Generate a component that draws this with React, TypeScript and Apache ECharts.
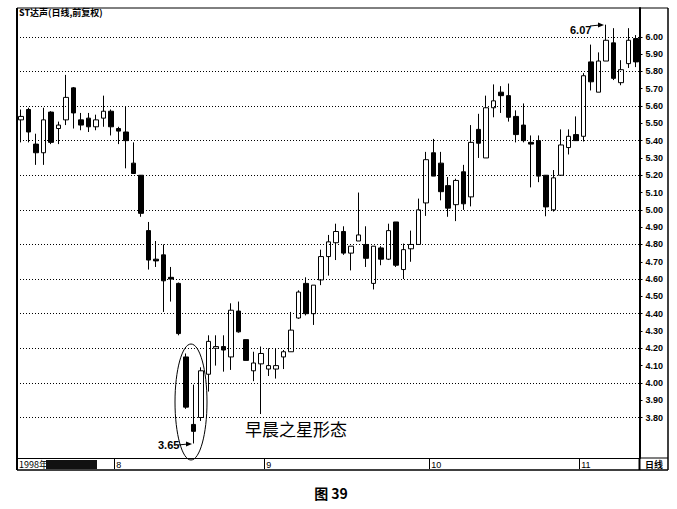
import React, { useEffect, useRef } from 'react';
import * as echarts from 'echarts';

// ---- data ----
const opens = [
  5.52, 5.58, 5.38, 5.33, 5.565, 5.47, 5.52, 5.705, 5.52, 5.53,
  5.48, 5.53, 5.57, 5.47, 5.45, 5.27, 5.2, 4.88, 4.715, 4.74,
  4.61, 4.575, 4.15, 3.76, 3.8, 4.05, 4.2, 4.21, 4.15, 4.415,
  4.25, 4.07, 4.11, 4.08, 4.08, 4.15, 4.18, 4.375, 4.575, 4.4,
  4.595, 4.73, 4.81, 4.875, 4.75, 4.82, 4.8, 4.575, 4.78, 4.715,
  4.93, 4.655, 4.775, 4.8, 5.04, 5.33, 5.27, 5.14, 5.03, 5.22,
  5.075, 5.465, 5.3, 5.59, 5.68, 5.66, 5.54, 5.49, 5.39, 5.4,
  5.2, 5.0, 5.2, 5.36, 5.435, 5.425, 5.855, 5.68, 5.86, 5.965,
  5.735, 5.845, 5.99,
];
const closes = [
  5.54, 5.45, 5.33, 5.52, 5.39, 5.49, 5.65, 5.56, 5.49, 5.48,
  5.52, 5.57, 5.48, 5.455, 5.4, 5.21, 4.98, 4.71, 4.705, 4.59,
  4.6, 4.285, 3.86, 3.72, 4.07, 4.24, 4.21, 4.19, 4.42, 4.295,
  4.13, 4.115, 4.17, 4.1, 4.1, 4.18, 4.305, 4.525, 4.4, 4.565,
  4.73, 4.815, 4.875, 4.75, 4.79, 4.855, 4.72, 4.79, 4.715, 4.88,
  4.68, 4.77, 4.8, 5.0, 5.29, 5.195, 5.105, 5.01, 5.17, 5.035,
  5.39, 5.385, 5.59, 5.63, 5.66, 5.535, 5.435, 5.4, 5.38, 5.195,
  5.017, 5.185, 5.375, 5.425, 5.4, 5.775, 5.74, 5.86, 5.98, 5.76,
  5.81, 5.98, 5.855,
];
const lows = [
  5.39, 5.39, 5.26, 5.26, 5.38, 5.38, 5.49, 5.47, 5.46, 5.45,
  5.46, 5.48, 5.43, 5.38, 5.24, 5.21, 4.96, 4.655, 4.67, 4.41,
  4.47, 4.275, 3.85, 3.65, 3.78, 3.95, 4.1, 4.065, 4.075, 4.29,
  4.13, 4.01, 3.82, 4.04, 4.025, 4.08, 4.18, 4.37, 4.39, 4.335,
  4.565, 4.62, 4.71, 4.74, 4.65, 4.82, 4.67, 4.54, 4.68, 4.71,
  4.67, 4.6, 4.7, 4.8, 4.965, 5.195, 5.055, 4.96, 4.935, 5.0,
  5.02, 5.3, 5.3, 5.535, 5.56, 5.51, 5.39, 5.39, 5.13, 5.16,
  4.963, 4.99, 5.2, 5.32, 5.4, 5.395, 5.69, 5.68, 5.86, 5.75,
  5.72, 5.82, 5.825,
];
const highs = [
  5.58, 5.59, 5.44, 5.59, 5.57, 5.51, 5.78, 5.71, 5.56, 5.56,
  5.55, 5.66, 5.58, 5.48, 5.6, 5.39, 5.2, 4.93, 4.82, 4.8,
  4.67, 4.58, 4.17, 3.99, 4.09, 4.275, 4.275, 4.275, 4.46, 4.47,
  4.25, 4.18, 4.21, 4.2, 4.2, 4.19, 4.41, 4.535, 4.61, 4.565,
  4.77, 4.855, 4.92, 4.905, 4.79, 5.1, 4.905, 4.79, 4.79, 4.92,
  4.93, 4.805, 4.88, 5.065, 5.335, 5.41, 5.335, 5.19, 5.18, 5.26,
  5.49, 5.555, 5.66, 5.725, 5.715, 5.73, 5.575, 5.615, 5.43, 5.43,
  5.2, 5.23, 5.465, 5.465, 5.54, 5.79, 5.955, 5.91, 6.07, 6.05,
  5.865, 6.05, 6.01,
];

// month boundaries (index of first trading day) and their labels
const monthStarts = [13, 33, 55, 75];
const monthLabels = ['8', '9', '10', '11'];
const categories = opens.map((_, i) => 'd' + (i + 1));

// price axis labels/ticks and dotted grid lines
const priceTicks = [
  3.8, 3.9, 4.0, 4.1, 4.2, 4.3, 4.4, 4.5, 4.6, 4.7, 4.8, 4.9,
  5.0, 5.1, 5.2, 5.3, 5.4, 5.5, 5.6, 5.7, 5.8, 5.9, 6.0,
];
const gridPrices = [3.8, 4.0, 4.2, 4.4, 4.6, 4.8, 5.0, 5.2, 5.4, 5.6, 5.8, 6.0];

const Y_MIN = 3.566;
const Y_MAX = 6.1665;

const SANS = '"Liberation Sans", Arial, "DejaVu Sans", sans-serif';
const CJK = '"Noto Sans CJK SC", "Noto Sans", sans-serif';

export default function App() {
  const ref = useRef<HTMLDivElement>(null);

  useEffect(() => {
    if (!ref.current) return;
    const chart = echarts.init(ref.current, null, { renderer: 'svg' });
    const candleData = opens.map((o, i) => [o, closes[i], lows[i], highs[i]]);

    const L = 17;
    const R = 639.5;
    const T = 8;
    const B = 458;
    const FR = 668;
    const FB = 470;

    chart.setOption({
      animation: false,
      backgroundColor: '#fff',
      grid: { left: L, right: 677 - R, top: T, bottom: 509 - B, containLabel: false },
      xAxis: {
        type: 'category',
        data: categories,
        boundaryGap: true,
        axisLine: { show: true, lineStyle: { color: '#000', width: 1 } },
        axisTick: {
          show: true,
          length: 11,
          interval: (i: number) => monthStarts.includes(i),
          lineStyle: { color: '#000', width: 1 },
        },
        axisLabel: {
          show: true,
          interval: (i: number) => monthStarts.includes(i),
          formatter: (_v: string, i: number) => {
            const k = monthStarts.indexOf(i);
            return k >= 0 ? monthLabels[k] : '';
          },
          align: 'left',
          margin: 2,
          fontSize: 9,
          color: '#000',
          fontFamily: SANS,
          padding: [0, 0, 0, -2],
        },
        splitLine: { show: false },
      },
      yAxis: {
        type: 'value',
        position: 'right',
        min: Y_MIN,
        max: Y_MAX,
        axisLine: { show: true, lineStyle: { color: '#000', width: 2 } },
        axisTick: { show: true, length: 3, customValues: priceTicks, lineStyle: { color: '#000' } },
        axisLabel: {
          customValues: priceTicks,
          formatter: (v: number) => v.toFixed(2),
          fontSize: 9,
          margin: 6,
          color: '#000',
          fontFamily: SANS,
          fontWeight: 'bold',
        },
        splitLine: { show: false },
      },
      series: [
        {
          type: 'candlestick',
          data: candleData,
          barWidth: 5,
          itemStyle: {
            color: '#fff',
            color0: '#000',
            borderColor: '#000',
            borderColor0: '#000',
            borderWidth: 1,
          },
          markLine: {
            silent: true,
            symbol: 'none',
            label: { show: false },
            lineStyle: { type: [1, 2], color: '#000', width: 1 },
            data: gridPrices.map((v) => ({ yAxis: v })),
          },
          z: 3,
        },
      ],
      graphic: [
        // frame
        { type: 'line', shape: { x1: L, y1: T, x2: L, y2: FB }, style: { stroke: '#000', lineWidth: 2 } },
        { type: 'line', shape: { x1: L, y1: T, x2: FR, y2: T }, style: { stroke: '#000', lineWidth: 1 } },
        { type: 'line', shape: { x1: FR, y1: T, x2: FR, y2: FB }, style: { stroke: '#000', lineWidth: 1.5 } },
        { type: 'line', shape: { x1: L, y1: FB, x2: FR, y2: FB }, style: { stroke: '#000', lineWidth: 1.5 } },
        { type: 'line', shape: { x1: R, y1: B, x2: FR, y2: B }, style: { stroke: '#000', lineWidth: 1 } },
        { type: 'line', shape: { x1: R, y1: B, x2: R, y2: FB }, style: { stroke: '#000', lineWidth: 2 } },
        // title
        {
          type: 'text', x: L + 2, y: T + 4,
          style: { text: 'ST达声(日线,前复权)', fontSize: 9, fontWeight: 'bold', fontFamily: CJK, fill: '#000', textVerticalAlign: 'middle' },
        },
        // bottom-left year label
        {
          type: 'text', x: L + 2, y: 464.5,
          style: { text: '1998年', fontSize: 9, fontFamily: CJK, fill: '#000', textVerticalAlign: 'middle' },
        },
        { type: 'rect', shape: { x: 46, y: 460, width: 51, height: 9 }, style: { fill: '#111' } },
        {
          type: 'text', x: 654, y: 464.5,
          style: { text: '日线', fontSize: 9, fontWeight: 'bold', fontFamily: CJK, fill: '#000', textAlign: 'center', textVerticalAlign: 'middle' },
        },
        // morning star ellipse & label
        {
          type: 'ellipse', shape: { cx: 191, cy: 402, rx: 16, ry: 58 },
          style: { fill: 'none', stroke: '#000', lineWidth: 1 }, z: 10,
        },
        {
          type: 'text', x: 245, y: 428,
          style: { text: '早晨之星形态', fontSize: 17, fontFamily: CJK, fill: '#000', textVerticalAlign: 'middle' },
          z: 10,
        },
        // 3.65 annotation
        {
          type: 'text', x: 158, y: 445,
          style: { text: '3.65', fontSize: 11, fontWeight: 'bold', fontFamily: SANS, fill: '#000', textVerticalAlign: 'middle' },
          z: 10,
        },
        { type: 'line', shape: { x1: 178, y1: 445, x2: 188, y2: 444 }, style: { stroke: '#000', lineWidth: 1 }, z: 10 },
        { type: 'polygon', shape: { points: [[192, 444], [186, 441.5], [186, 446.5]] }, style: { fill: '#000' }, z: 10 },
        // 6.07 annotation
        {
          type: 'text', x: 570, y: 29.5,
          style: { text: '6.07', fontSize: 11, fontWeight: 'bold', fontFamily: SANS, fill: '#000', textVerticalAlign: 'middle' },
          z: 10,
        },
        { type: 'line', shape: { x1: 590, y1: 26, x2: 600, y2: 25 }, style: { stroke: '#000', lineWidth: 1 }, z: 10 },
        { type: 'polygon', shape: { points: [[604, 25], [598, 22.5], [598, 27.5]] }, style: { fill: '#000' }, z: 10 },
        // caption
        {
          type: 'text', x: 331, y: 493,
          style: { text: '图 39', fontSize: 14, fontWeight: 'bold', fontFamily: CJK, fill: '#000', textAlign: 'center', textVerticalAlign: 'middle' },
        },
      ],
    });

    return () => chart.dispose();
  }, []);

  return <div ref={ref} style={{ width: 677, height: 509, position: 'absolute', left: 0, top: 0 }} />;
}
